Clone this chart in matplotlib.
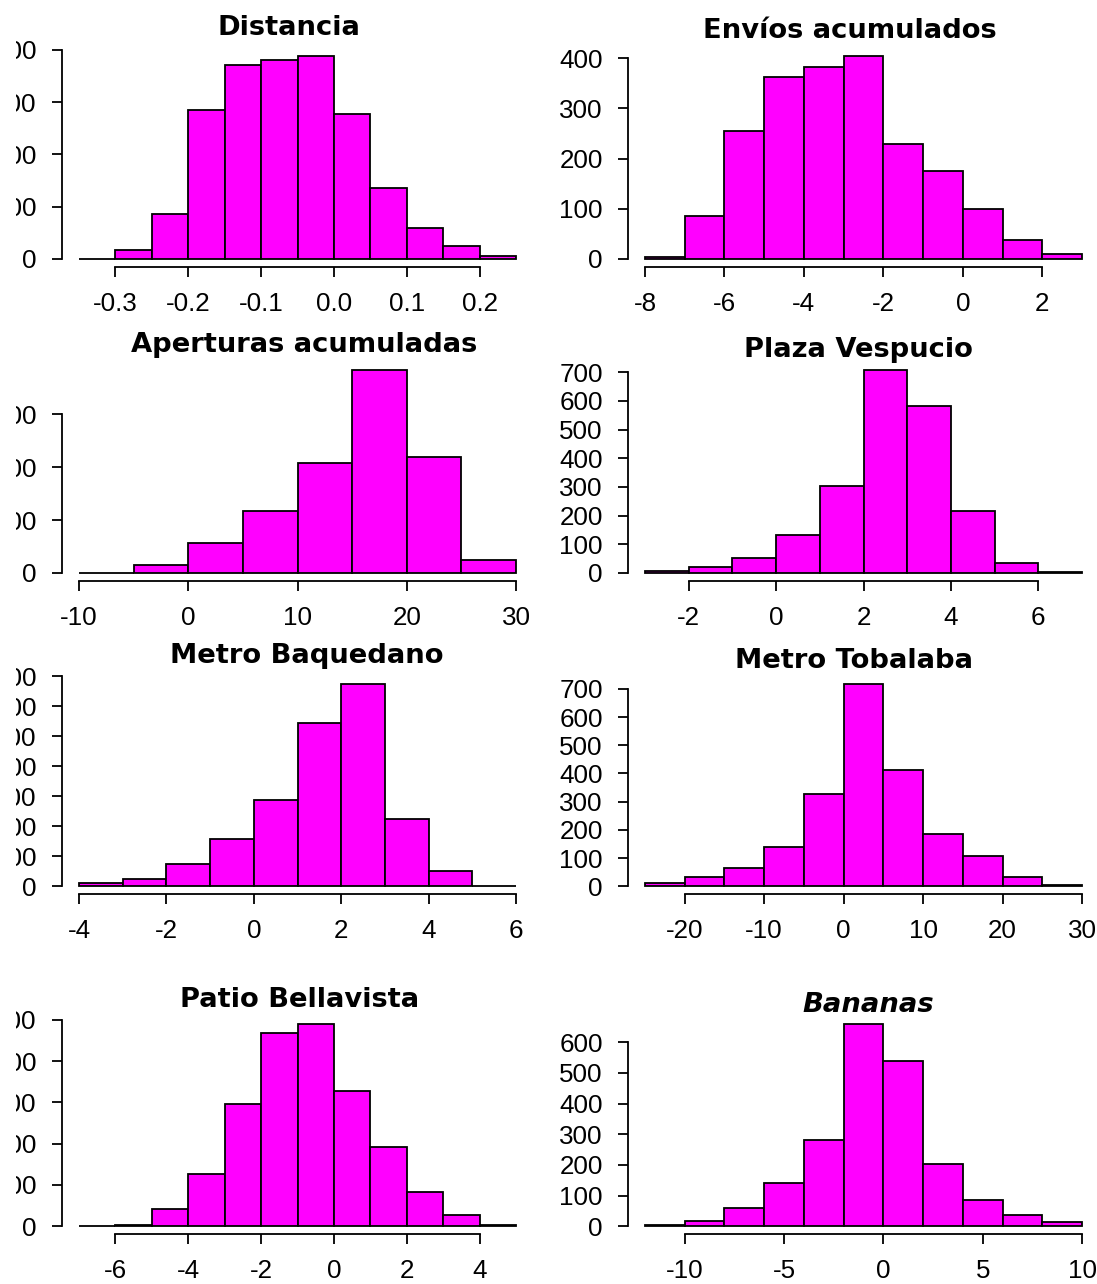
import matplotlib
matplotlib.use("Agg")
import matplotlib.pyplot as plt
from matplotlib.patches import Rectangle

plt.rcParams["font.family"] = ["Liberation Sans", "DejaVu Sans"]
plt.rcParams["axes.unicode_minus"] = False

# ---------------- data ----------------
distancia_breaks = [-0.35, -0.30, -0.25, -0.20, -0.15, -0.10, -0.05, 0.00, 0.05, 0.10, 0.15, 0.20, 0.25]
distancia_counts = [0, 17, 87, 285, 371, 381, 388, 277, 136, 60, 24, 6]
distancia_xticks = [-0.3, -0.2, -0.1, 0.0, 0.1, 0.2]
distancia_xlabels = ["-0.3", "-0.2", "-0.1", "0.0", "0.1", "0.2"]
distancia_yticks = [0, 100, 200, 300, 400]

envios_breaks = [-8, -7, -6, -5, -4, -3, -2, -1, 0, 1, 2, 3]
envios_counts = [3, 85, 254, 363, 382, 404, 229, 175, 100, 37, 9]
envios_xticks = [-8, -6, -4, -2, 0, 2]
envios_yticks = [0, 100, 200, 300, 400]

aperturas_breaks = [-10, -5, 0, 5, 10, 15, 20, 25, 30]
aperturas_counts = [0, 29, 115, 236, 415, 766, 438, 49]
aperturas_xticks = [-10, 0, 10, 20, 30]
aperturas_yticks = [0, 200, 400, 600]

vespucio_breaks = [-3, -2, -1, 0, 1, 2, 3, 4, 5, 6, 7]
vespucio_counts = [6, 20, 52, 131, 302, 707, 583, 216, 34, 4]
vespucio_xticks = [-2, 0, 2, 4, 6]
vespucio_yticks = [0, 100, 200, 300, 400, 500, 600, 700]

baquedano_breaks = [-4, -3, -2, -1, 0, 1, 2, 3, 4, 5, 6]
baquedano_counts = [11, 24, 73, 157, 287, 544, 676, 224, 51, 0]
baquedano_xticks = [-4, -2, 0, 2, 4, 6]
baquedano_yticks = [0, 100, 200, 300, 400, 500, 600, 700]

tobalaba_breaks = [-25, -20, -15, -10, -5, 0, 5, 10, 15, 20, 25, 30]
tobalaba_counts = [12, 32, 65, 139, 326, 719, 413, 187, 106, 32, 4]
tobalaba_xticks = [-20, -10, 0, 10, 20, 30]
tobalaba_yticks = [0, 100, 200, 300, 400, 500, 600, 700]

bellavista_breaks = [-7, -6, -5, -4, -3, -2, -1, 0, 1, 2, 3, 4, 5]
bellavista_counts = [0, 3, 41, 127, 295, 468, 491, 327, 191, 82, 27, 3]
bellavista_xticks = [-6, -4, -2, 0, 2, 4]
bellavista_yticks = [0, 100, 200, 300, 400, 500]

bananas_breaks = [-12, -10, -8, -6, -4, -2, 0, 2, 4, 6, 8, 10]
bananas_counts = [4, 18, 61, 140, 281, 661, 538, 203, 86, 37, 13]
bananas_xticks = [-10, -5, 0, 5, 10]
bananas_yticks = [0, 100, 200, 300, 400, 500, 600]

panel_titles = ["Distancia", "Envíos acumulados", "Aperturas acumuladas", "Plaza Vespucio",
                "Metro Baquedano", "Metro Tobalaba", "Patio Bellavista", "Bananas"]

panels = [
    (distancia_breaks, distancia_counts, distancia_xticks, distancia_xlabels, distancia_yticks),
    (envios_breaks, envios_counts, envios_xticks, None, envios_yticks),
    (aperturas_breaks, aperturas_counts, aperturas_xticks, None, aperturas_yticks),
    (vespucio_breaks, vespucio_counts, vespucio_xticks, None, vespucio_yticks),
    (baquedano_breaks, baquedano_counts, baquedano_xticks, None, baquedano_yticks),
    (tobalaba_breaks, tobalaba_counts, tobalaba_xticks, None, tobalaba_yticks),
    (bellavista_breaks, bellavista_counts, bellavista_xticks, None, bellavista_yticks),
    (bananas_breaks, bananas_counts, bananas_xticks, None, bananas_yticks),
]

# ---------------- layout (pixels) ----------------
W, H, DPI = 1097, 1284, 100
COL_X = [61.5, 627.5]
AX_W = 472
ROW_TOP = [48.1, 362.1, 675.4, 1015.4]
AX_H = 219
TITLE_POS = [(289, 35), (850, 38.3), (304, 351.7), (858, 356.7),
             (307, 663.3), (854, 668.3), (300, 1006.7), (868, 1011.7)]

LW = 1.3
TICK_FS = 18.7
TITLE_FS = 19.7

fig = plt.figure(figsize=(W / DPI, H / DPI), dpi=DPI, facecolor="white")


def draw_hist(ax, breaks, counts, xticks, xlabels, yticks):
    lefts = breaks[:-1]
    widths = [b - a for a, b in zip(breaks[:-1], breaks[1:])]
    ax.bar(lefts, counts, width=widths, align="edge", color="#FF00FF",
           edgecolor="black", linewidth=LW, zorder=2)
    lo, hi = breaks[0], breaks[-1]
    span = hi - lo
    top = max(counts)
    ax.set_xlim(lo - 0.04 * span, hi + 0.04 * span)
    ax.set_ylim(-0.04 * top, 1.04 * top)
    if xlabels is None:
        xlabels = [f"{v:g}" for v in xticks]
    ax.set_xticks(xticks, xlabels)
    ax.set_yticks(yticks, [f"{v:g}" for v in yticks])
    for side in ("top", "right"):
        ax.spines[side].set_visible(False)
    ax.spines["left"].set_bounds(yticks[0], yticks[-1])
    ax.spines["bottom"].set_bounds(xticks[0], xticks[-1])
    for side in ("left", "bottom"):
        ax.spines[side].set_linewidth(LW)
    ax.tick_params(direction="out", length=7.2, width=LW, labelsize=TICK_FS,
                   pad=10.5, colors="black")
    ax.patch.set_visible(False)


for i, (panel, title) in enumerate(zip(panels, panel_titles)):
    row, col = divmod(i, 2)
    x0 = COL_X[col]
    y_top = ROW_TOP[row]
    ax = fig.add_axes([x0 / W, 1 - (y_top + AX_H) / H, AX_W / W, AX_H / H])
    draw_hist(ax, *panel)
    tx, ty = TITLE_POS[i]
    style = "italic" if title == "Bananas" else "normal"
    fig.text(tx / W, 1 - ty / H, title, ha="center", va="baseline",
             family="DejaVu Sans", weight="bold", style=style, size=TITLE_FS)

# left margin of the sheet is trimmed
fig.add_artist(Rectangle((0, 0), 16 / W, 1, transform=fig.transFigure,
                         facecolor="white", edgecolor="none", zorder=10))

fig.savefig("out.png", dpi=DPI, facecolor="white")
